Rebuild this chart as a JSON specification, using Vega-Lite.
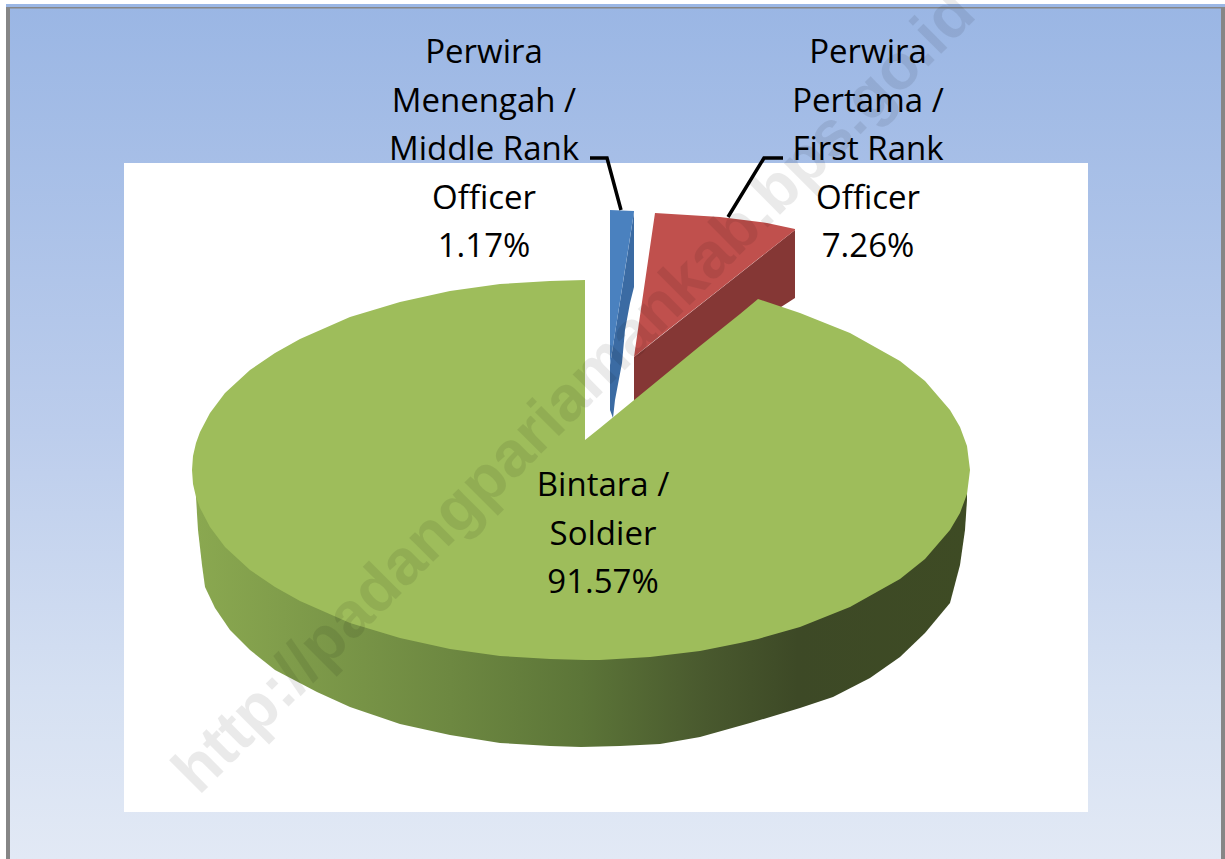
{
"$schema":"https://vega.github.io/schema/vega-lite/v6.json",
"width":1225,"height":859,"padding":0,
"autosize":{"type":"none"},
"background":"white",
"config":{"view":{"stroke":null}},
"datasets":{
"frame":[{"part":"panel","x":6,"x2":1225,"y":4,"y2":859}],
"edges":[{"part":"left","x":6,"x2":10,"y":7,"y2":859},{"part":"top","x":6,"x2":1225,"y":7,"y2":8.5},{"part":"right","x":1221,"x2":1225,"y":7,"y2":859}],
"plot":[{"part":"plot area","x":124,"x2":1088,"y":163,"y2":812}],
"side":[{"x":196,"y":480,"y2":497},{"x":198,"y":480,"y2":530},{"x":202,"y":480,"y2":565},{"x":205,"y":480,"y2":587},{"x":215,"y":480,"y2":608},{"x":230,"y":480,"y2":630},{"x":250,"y":480,"y2":650},{"x":275,"y":480,"y2":670},{"x":317,"y":480,"y2":692},{"x":350,"y":480,"y2":707},{"x":400,"y":480,"y2":724},{"x":450,"y":480,"y2":735},{"x":500,"y":480,"y2":743},{"x":550,"y":480,"y2":746},{"x":581,"y":480,"y2":747},{"x":620,"y":480,"y2":746},{"x":660,"y":480,"y2":744},{"x":700,"y":480,"y2":737},{"x":750,"y":480,"y2":723},{"x":800,"y":480,"y2":708},{"x":833,"y":480,"y2":697},{"x":870,"y":480,"y2":678},{"x":900,"y":480,"y2":657},{"x":925,"y":480,"y2":633},{"x":950,"y":480,"y2":603},{"x":960,"y":480,"y2":565},{"x":965,"y":480,"y2":530},{"x":967,"y":480,"y2":500}],
"green":[{"x":192,"y":470,"y2":470},{"x":193,"y":456,"y2":484},{"x":196,"y":443,"y2":497},{"x":200,"y":432,"y2":508},{"x":210,"y":413,"y2":527},{"x":225,"y":393,"y2":547},{"x":250,"y":370,"y2":570},{"x":275,"y":353,"y2":587},{"x":300,"y":339,"y2":601},{"x":350,"y":317,"y2":623},{"x":400,"y":302,"y2":638},{"x":450,"y":291,"y2":649},{"x":500,"y":284,"y2":656},{"x":550,"y":281,"y2":659},{"x":585,"y":280,"y2":660},{"x":585.01,"y":440,"y2":660},{"x":600,"y":428,"y2":660},{"x":650,"y":387,"y2":657},{"x":700,"y":346,"y2":651},{"x":740,"y":314,"y2":643},{"x":758,"y":299,"y2":639},{"x":800,"y":313,"y2":627},{"x":850,"y":333,"y2":607},{"x":900,"y":361,"y2":579},{"x":925,"y":381,"y2":559},{"x":950,"y":410,"y2":530},{"x":960,"y":427,"y2":513},{"x":967,"y":446,"y2":494},{"x":970,"y":470,"y2":470}],
"redSide":[{"x":634,"y":357,"y2":402},{"x":795,"y":230,"y2":298}],
"redFace":[{"x":634,"y":357,"y2":357},{"x":655,"y":213,"y2":340},{"x":720,"y":217,"y2":289},{"x":767,"y":223,"y2":252},{"x":795,"y":229,"y2":230}],
"blueSide":[{"x":610,"y":365,"y2":410},{"x":613,"y":346,"y2":418},{"x":615,"y":333,"y2":400},{"x":622,"y":289,"y2":363},{"x":625,"y":270,"y2":330},{"x":630,"y":238,"y2":303},{"x":634,"y":212,"y2":287}],
"blueFace":[{"x":610,"y":210,"y2":365},{"x":634,"y":211,"y2":212}],
"leaders":[{"slice":"middle","step":1,"x":590,"y":158},{"slice":"middle","step":2,"x":607,"y":158},{"slice":"middle","step":3,"x":621,"y":210},{"slice":"first","step":1,"x":783,"y":158},{"slice":"first","step":2,"x":764,"y":158},{"slice":"first","step":3,"x":728,"y":217}],
"labels":[{"label":"Perwira\nMenengah /\nMiddle Rank\nOfficer\n1.17%","x":484,"y":53},{"label":"Perwira\nPertama /\nFirst Rank\nOfficer\n7.26%","x":868,"y":53},{"label":"Bintara /\nSoldier\n91.57%","x":603,"y":486}],
"mark":[{"text":"http://padangpariamankab.bps.go.id","x":575,"y":393}]
},
"layer":[
{"data":{"name":"frame"},"mark":{"type":"rect","color":{"gradient":"linear","x1":0,"y1":0,"x2":0,"y2":1,"stops":[{"offset":0,"color":"#9ab6e4"},{"offset":0.5,"color":"#bccdec"},{"offset":0.8,"color":"#d5e0f2"},{"offset":1,"color":"#e2e9f5"}]}},"encoding":{"x":{"field":"x","type":"quantitative","scale":{"domain":[0,1225],"nice":false,"zero":false},"axis":null},"x2":{"field":"x2"},"y":{"field":"y","type":"quantitative","scale":{"domain":[859,0],"nice":false,"zero":false},"axis":null},"y2":{"field":"y2"}}},
{"data":{"name":"edges"},"mark":{"type":"rect","color":"#868686"},"encoding":{"x":{"field":"x","type":"quantitative"},"x2":{"field":"x2"},"y":{"field":"y","type":"quantitative"},"y2":{"field":"y2"}}},
{"data":{"name":"plot"},"mark":{"type":"rect","color":"#ffffff"},"encoding":{"x":{"field":"x","type":"quantitative"},"x2":{"field":"x2"},"y":{"field":"y","type":"quantitative"},"y2":{"field":"y2"}}},
{"data":{"name":"blueSide"},"mark":{"type":"area","color":"#3b6ba3"},"encoding":{"x":{"field":"x","type":"quantitative"},"y":{"field":"y","type":"quantitative"},"y2":{"field":"y2"}}},
{"data":{"name":"blueFace"},"mark":{"type":"area","color":"#4a81bf"},"encoding":{"x":{"field":"x","type":"quantitative"},"y":{"field":"y","type":"quantitative"},"y2":{"field":"y2"}}},
{"data":{"name":"redSide"},"mark":{"type":"area","color":"#853735"},"encoding":{"x":{"field":"x","type":"quantitative"},"y":{"field":"y","type":"quantitative"},"y2":{"field":"y2"}}},
{"data":{"name":"redFace"},"mark":{"type":"area","color":"#c0504d"},"encoding":{"x":{"field":"x","type":"quantitative"},"y":{"field":"y","type":"quantitative"},"y2":{"field":"y2"}}},
{"data":{"name":"side"},"mark":{"type":"area","color":{"gradient":"linear","x1":0,"y1":0,"x2":1,"y2":0,"stops":[{"offset":0,"color":"#8aa850"},{"offset":0.33,"color":"#6d8841"},{"offset":0.5,"color":"#5c7538"},{"offset":0.66,"color":"#49592e"},{"offset":0.78,"color":"#3d4926"},{"offset":1,"color":"#3e4b24"}]}},"encoding":{"x":{"field":"x","type":"quantitative"},"y":{"field":"y","type":"quantitative"},"y2":{"field":"y2"}}},
{"data":{"name":"green"},"mark":{"type":"area","color":"#9ebd5b"},"encoding":{"x":{"field":"x","type":"quantitative"},"y":{"field":"y","type":"quantitative"},"y2":{"field":"y2"}}},
{"data":{"name":"leaders"},"mark":{"type":"line","color":"#000000","strokeWidth":3.5,"interpolate":"linear"},"encoding":{"x":{"field":"x","type":"quantitative"},"y":{"field":"y","type":"quantitative"},"detail":{"field":"slice"},"order":{"field":"step"}}},
{"data":{"name":"labels"},"mark":{"type":"text","font":"Open Sans","fontSize":33,"lineHeight":48.5,"lineBreak":"\n","align":"center","baseline":"middle","color":"#000000"},"encoding":{"x":{"field":"x","type":"quantitative"},"y":{"field":"y","type":"quantitative"},"text":{"field":"label"}}},
{"data":{"name":"mark"},"mark":{"type":"text","font":"Liberation Sans","fontWeight":"bold","fontSize":64,"angle":-45,"align":"center","baseline":"middle","color":"#000000","opacity":0.08},"encoding":{"x":{"field":"x","type":"quantitative"},"y":{"field":"y","type":"quantitative"},"text":{"field":"text"}}}
]
}
